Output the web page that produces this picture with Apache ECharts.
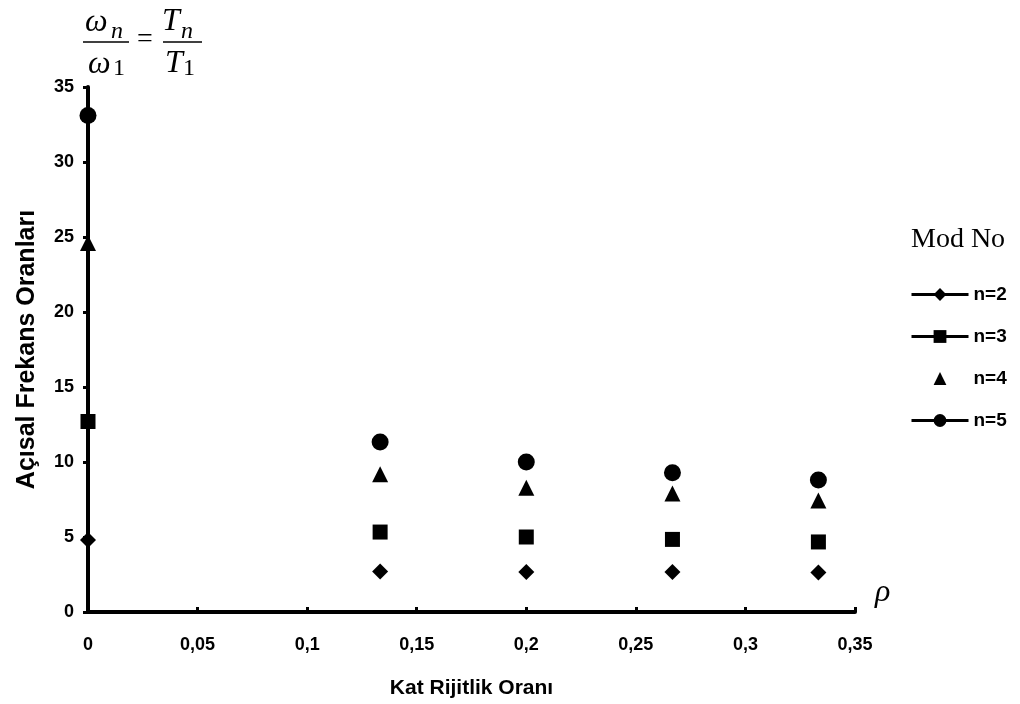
<!DOCTYPE html>
<html>
<head>
<meta charset="utf-8">
<script src="https://cdn.jsdelivr.net/npm/echarts@6/dist/echarts.min.js"></script>
<style>
html,body{margin:0;padding:0;background:#fff;}
#chart{width:1020px;height:704px;}
</style>
</head>
<body>
<div id="chart"></div>
<script>
// Data
const rho = [0, 0.1333, 0.2, 0.2667, 0.3333];
const n2 = [4.8, 2.7, 2.67, 2.67, 2.64];
const n3 = [12.7, 5.33, 5.0, 4.84, 4.67];
const n4 = [24.6, 9.18, 8.29, 7.9, 7.44];
const n5 = [33.1, 11.33, 10.0, 9.29, 8.8];
const seriesNames = ['n=2', 'n=3', 'n=4', 'n=5'];
const xTicks = [0, 0.05, 0.1, 0.15, 0.2, 0.25, 0.3, 0.35];

const pairs = v => rho.map((x, i) => [x, v[i]]);
const sym = ['diamond', 'rect', 'triangle', 'circle'];
const sizes = [16, 15, 16, 17];
const vals = [n2, n3, n4, n5];

const chart = echarts.init(document.getElementById('chart'));
function txt(text, left, top, size, italic) {
  return {type: 'text', left: left, top: top, style: {
    text: text, fontFamily: 'Liberation Serif', fontSize: size,
    fontStyle: italic ? 'italic' : 'normal', fill: '#000'}};
}

chart.setOption({
  animation: false,
  backgroundColor: '#fff',
  grid: {left: 88, right: 165, top: 87, bottom: 92},
  xAxis: {
    type: 'value', min: 0, max: 0.35, interval: 0.05,
    name: 'Kat Rijitlik Oranı', nameLocation: 'middle', nameGap: 66,
    nameTextStyle: {fontFamily: 'Liberation Sans', fontWeight: 'bold', fontSize: 21, color: '#000'},
    axisLine: {lineStyle: {color: '#000', width: 4}},
    axisTick: {show: true, inside: true, length: 5, lineStyle: {color: '#000', width: 3}},
    axisLabel: {margin: 24, fontFamily: 'Liberation Sans', fontWeight: 'bold', fontSize: 18, color: '#000',
      formatter: v => String(xTicks.find(t => Math.abs(t - v) < 1e-9) ?? v).replace('.', ',')},
    splitLine: {show: false}
  },
  yAxis: {
    type: 'value', min: 0, max: 35, interval: 5,
    name: 'Açısal Frekans Oranları', nameLocation: 'middle', nameGap: 48,
    nameTextStyle: {fontFamily: 'Liberation Sans', fontWeight: 'bold', fontSize: 25, color: '#000'},
    axisLine: {lineStyle: {color: '#000', width: 4}},
    axisTick: {show: true, length: 5, lineStyle: {color: '#000', width: 3}},
    axisLabel: {margin: 14, fontFamily: 'Liberation Sans', fontWeight: 'bold', fontSize: 18, color: '#000'},
    splitLine: {show: false}
  },
  legend: {
    orient: 'vertical', left: 905, top: 280, itemGap: 23, itemWidth: 57, itemHeight: 16,
    textStyle: {fontFamily: 'Liberation Sans', fontWeight: 'bold', fontSize: 19, color: '#000'},
    data: seriesNames.map((nm, i) => ({
      name: nm,
      lineStyle: {color: '#000', width: 3, opacity: i === 2 ? 0 : 1}
    }))
  },
  series: seriesNames.map((nm, i) => ({
    name: nm, type: 'line', data: pairs(vals[i]),
    symbol: sym[i], symbolSize: sizes[i], showSymbol: true,
    itemStyle: {color: '#000'},
    lineStyle: {color: '#000', width: 0, opacity: 0},
    z: 5
  })),
  graphic: [
    // ω_n / ω_1 = T_n / T_1
    txt('ω', 85, 7, 32, true),
    txt('n', 111, 20, 24, true),
    {type: 'line', shape: {x1: 83, y1: 42, x2: 129, y2: 42}, style: {stroke: '#000', lineWidth: 1.5}},
    txt('ω', 88, 49, 32, true),
    txt('1', 113, 57, 24, false),
    txt('=', 137, 26, 28, false),
    txt('T', 162, 6, 32, true),
    txt('n', 181, 20, 24, true),
    {type: 'line', shape: {x1: 163, y1: 42, x2: 202, y2: 42}, style: {stroke: '#000', lineWidth: 1.5}},
    txt('T', 165, 48, 32, true),
    txt('1', 183, 57, 24, false),
    // ρ symbol at the end of the x axis
    txt('ρ', 875, 577, 32, true),
    // Legend title
    txt('Mod No', 911, 226, 28, false)
  ]
});
</script>
</body>
</html>
